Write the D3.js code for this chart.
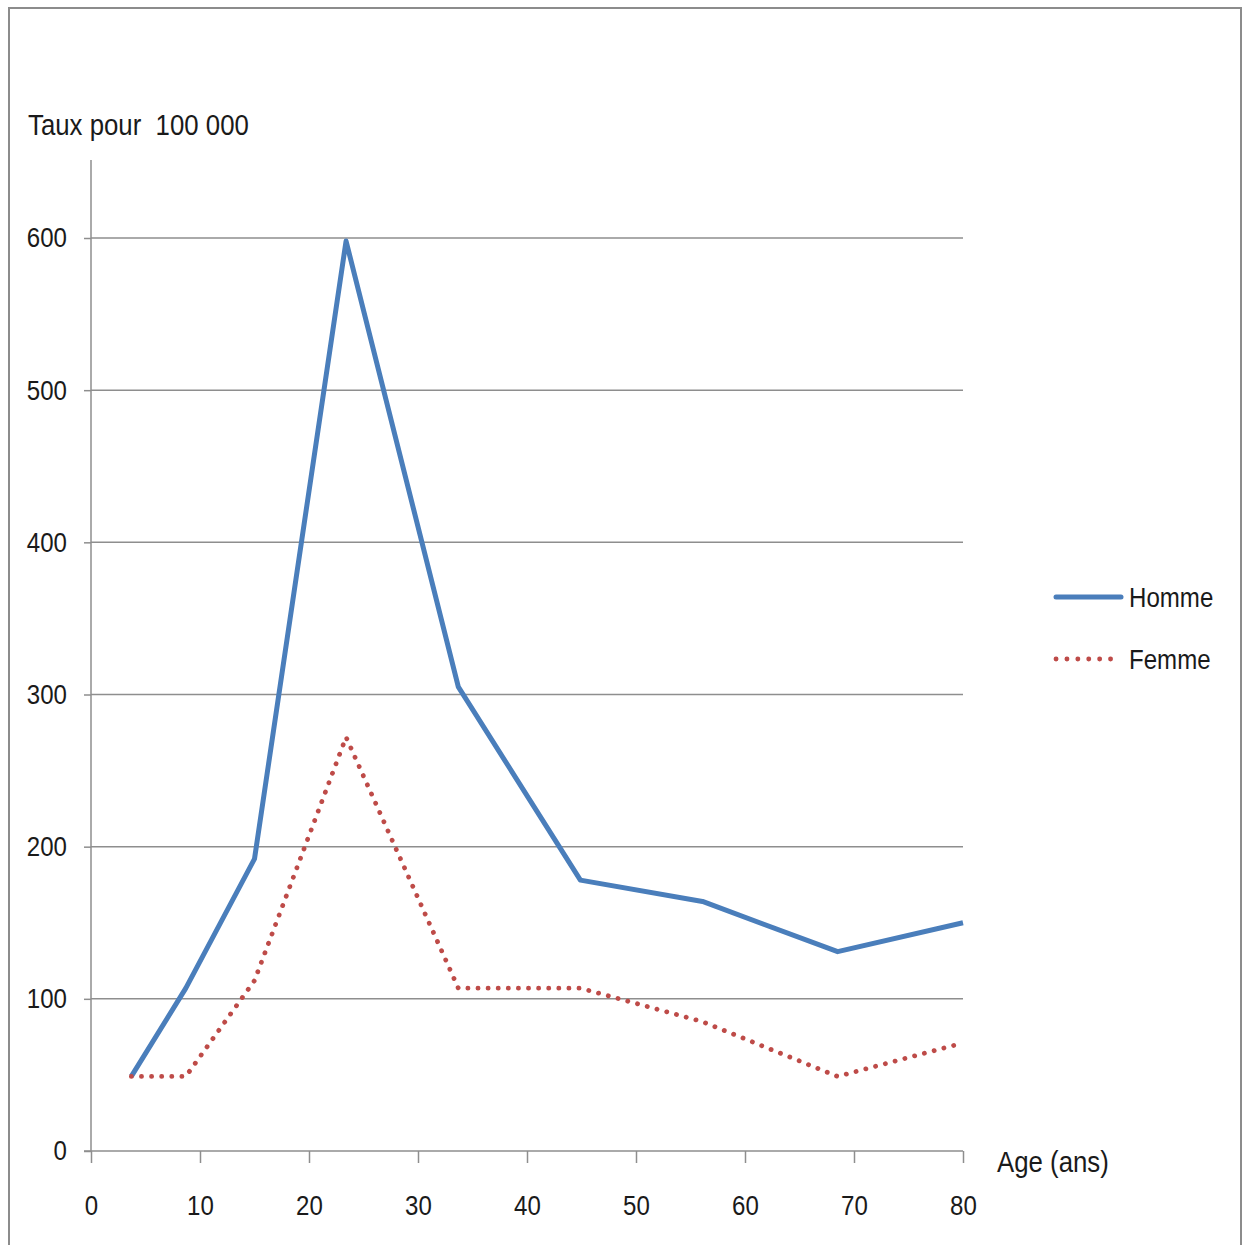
<!DOCTYPE html>
<html>
<head>
<meta charset="utf-8">
<script src="https://cdn.jsdelivr.net/npm/d3@7"></script>
<style>
  html, body { margin: 0; padding: 0; background: #fff; }
  text { font-family: "Liberation Sans", "DejaVu Sans", sans-serif; fill: #1a1a1a; }
</style>
</head>
<body>
<svg id="chart" width="1249" height="1245"></svg>
<script>
const ages = [3.7, 8.7, 15.0, 23.4, 33.7, 44.9, 56.1, 68.5, 80];
const homme = [49, 107, 192, 598, 305, 178, 164, 131, 150];
const femme = [49, 49, 112, 272, 107, 107, 85, 49, 71];
const xTicks = [0, 10, 20, 30, 40, 50, 60, 70, 80];
const yTicks = [0, 100, 200, 300, 400, 500, 600];
const seriesNames = ["Homme", "Femme"];
const seriesColors = ["#4a7ebb", "#be4b48"];

const svg = d3.select("#chart");
const fs = 28;
const sx = 0.86;

// outer frame
svg.append("rect").attr("x", 9).attr("y", 8).attr("width", 1232).attr("height", 1250)
  .attr("fill", "none").attr("stroke", "#8c8c8c").attr("stroke-width", 2);

const x = d3.scaleLinear().domain([0, 80]).range([91, 963]);
const y = d3.scaleLinear().domain([0, 600]).range([1151, 238]);

// gridlines
svg.append("g").selectAll("line").data(yTicks.filter(d => d > 0)).join("line")
  .attr("x1", x(0)).attr("x2", x(80)).attr("y1", d => y(d)).attr("y2", d => y(d))
  .attr("stroke", "#8e8e8e").attr("stroke-width", 1.5);

// y axis
const yAxis = svg.append("g").attr("transform", `translate(${x(0)},0)`)
  .call(d3.axisLeft(y).tickValues(yTicks).tickSize(7).tickPadding(16).tickFormat(d3.format("d")));
yAxis.select(".domain").remove();
yAxis.append("line").attr("x1", 0).attr("x2", 0).attr("y1", 160).attr("y2", y(0))
  .attr("stroke", "#8e8e8e").attr("stroke-width", 1.5);
yAxis.selectAll(".tick line").attr("stroke", "#8e8e8e").attr("stroke-width", 1.5);
yAxis.selectAll(".tick text").attr("font-size", fs).attr("fill", "#1a1a1a")
  .attr("x", -24 / sx).attr("transform", `scale(${sx},1)`)
  .style("font-family", '"Liberation Sans", sans-serif');

// x axis
const xAxis = svg.append("g").attr("transform", `translate(0,${y(0)})`)
  .call(d3.axisBottom(x).tickValues(xTicks).tickSize(12).tickPadding(32).tickSizeOuter(0));
xAxis.select(".domain").attr("stroke", "#8e8e8e").attr("stroke-width", 1.5)
  .attr("d", `M${x(0) - 7},0H${x(80)}`);
xAxis.selectAll(".tick line").attr("stroke", "#8e8e8e").attr("stroke-width", 1.5);
xAxis.selectAll(".tick text").attr("font-size", fs).attr("fill", "#1a1a1a")
  .attr("transform", `scale(${sx},1)`)
  .style("font-family", '"Liberation Sans", sans-serif');

// titles
function label(px, py, size, str) {
  svg.append("text").attr("transform", `translate(${px},${py}) scale(${sx},1)`)
    .attr("font-size", size).attr("xml:space", "preserve").text(str);
}
label(28, 135, 30, "Taux pour  100 000");
label(997, 1172, 30, "Age (ans)");

// lines
const line = d3.line().x((d, i) => x(ages[i])).y(d => y(d));
svg.append("path").datum(homme).attr("d", line).attr("fill", "none")
  .attr("stroke", seriesColors[0]).attr("stroke-width", 5).attr("stroke-linejoin", "round");
svg.append("path").datum(femme).attr("d", line).attr("fill", "none")
  .attr("stroke", seriesColors[1]).attr("stroke-width", 4.8).attr("stroke-linecap", "round")
  .attr("stroke-dasharray", "0.1 10");

// legend
[0, 1].forEach(i => {
  const ly = 597 + i * 62;
  const l = svg.append("line").attr("x1", 1056).attr("x2", 1121).attr("y1", ly).attr("y2", ly)
    .attr("stroke", seriesColors[i]).attr("stroke-linecap", "round");
  if (i === 0) l.attr("stroke-width", 5);
  else l.attr("stroke-width", 4.8).attr("stroke-dasharray", "0.1 10.8");
  label(1129, ly + 10, 28, seriesNames[i]);
});
</script>
</body>
</html>
